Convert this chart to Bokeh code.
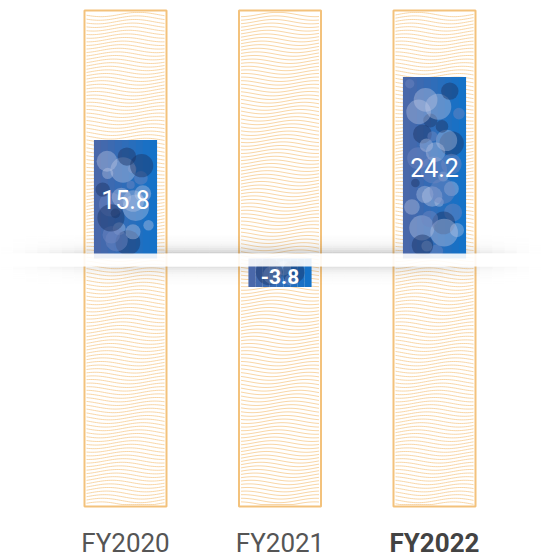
import numpy as np
from bokeh.plotting import figure
from bokeh.models import Range1d
from bokeh.core.properties import value
from bokeh.embed import file_html
from bokeh.resources import INLINE

# ---- data ----
categories = ["FY2020", "FY2021", "FY2022"]
values = [15.8, -3.8, 24.2]
value_labels = ["15.8", "-3.8", "24.2"]
highlight = [False, False, True]

# ---- layout / style constants ----
W, H = 541, 558
PX_X = 154.5      # px per category step
PX_Y = 7.5        # px per unit
X0 = 125          # px of first category
Y0 = 258          # px of zero
COL_W = 82 / PX_X
BAR_W = 63 / PX_X
COL_TOP = 33.07
COL_BOTTOM = -33.07
BAND_TOP = 0.667
BAND_BOTTOM = -1.067

x_range = Range1d(-X0 / PX_X, (W - X0) / PX_X)
y_range = Range1d(-(H - Y0) / PX_Y, Y0 / PX_Y)

p = figure(width=W, height=H, x_range=x_range, y_range=y_range,
           output_backend="svg", toolbar_location=None,
           x_axis_type=None, y_axis_type=None, min_border=0,
           outline_line_color=None, background_fill_color="white",
           border_fill_color="white")
p.grid.visible = False

xs = np.arange(len(categories), dtype=float)

# ---- background columns ----
p.quad(left=xs - COL_W / 2, right=xs + COL_W / 2, top=COL_TOP, bottom=COL_BOTTOM,
       fill_color="white", line_color=None)

# wavy texture inside columns
wx, wy = [], []
col_w_px = COL_W * PX_X
n_lines = int((COL_TOP - COL_BOTTOM) * PX_Y / 3.6)
xpx = np.linspace(2, col_w_px - 2, 40)
for c in xs:
    for k in range(n_lines):
        y0px = 4 + k * 3.6
        ph = y0px * 0.045 + c * 1.3
        ypx = y0px + 2.2 * np.sin(2 * np.pi * xpx / 75.0 + ph)
        ydata = COL_TOP - np.clip(ypx, 2, (COL_TOP - COL_BOTTOM) * PX_Y - 2) / PX_Y
        wx.append(list(c - COL_W / 2 + xpx / PX_X))
        wy.append(list(ydata))
p.multi_line(xs=wx, ys=wy, line_color="#f5c684", line_width=0.8, line_alpha=0.9)

p.quad(left=xs - COL_W / 2, right=xs + COL_W / 2, top=COL_TOP, bottom=COL_BOTTOM,
       fill_color=None, line_color="#f3c27c", line_width=2)

# ---- shadow around zero band ----
nx = 44
edges = np.linspace(0, W, nx + 1)
sl, sr, st, sb, sa = [], [], [], [], []
for i in range(nx):
    xm = (edges[i] + edges[i + 1]) / 2
    f = min(1.0, xm / 130.0, (W - xm) / 110.0) ** 1.3
    for k in range(10):
        g = 0.32 * np.exp(-k / 3.0)
        sl.append(x_range.start + edges[i] / PX_X)
        sr.append(x_range.start + edges[i + 1] / PX_X)
        sb.append(BAND_TOP + k * 1.8 / PX_Y)
        st.append(BAND_TOP + (k + 1) * 1.8 / PX_Y)
        sa.append(g * f)
    for k in range(10):
        g = 0.2 * np.exp(-k / 3.0)
        sl.append(x_range.start + edges[i] / PX_X)
        sr.append(x_range.start + edges[i + 1] / PX_X)
        st.append(BAND_BOTTOM - k * 1.8 / PX_Y)
        sb.append(BAND_BOTTOM - (k + 1) * 1.8 / PX_Y)
        sa.append(g * f)
p.quad(left=sl, right=sr, top=st, bottom=sb, fill_color="#707070",
       fill_alpha=sa, line_color=None)

# ---- bars (gradient strips) ----
n_strips = 9
c_left = np.array([0x4a, 0x68, 0xaa])
c_right = np.array([0x14, 0x72, 0xc8])
vals = np.array(values)
for s in range(n_strips):
    t = s / (n_strips - 1)
    col = c_left + (c_right - c_left) * t
    hexc = "#%02x%02x%02x" % tuple(int(v) for v in col)
    p.vbar(x=xs - BAR_W / 2 + (s + 0.5) * BAR_W / n_strips, width=BAR_W / n_strips * 1.02,
           top=np.maximum(vals, 0), bottom=np.minimum(vals, 0),
           fill_color=hexc, line_color=None)


def halton(i, b):
    f, r = 1.0, 0.0
    while i > 0:
        f /= b
        r += f * (i % b)
        i //= b
    return r


bub_palette = [("#b7c3e2", 0.42), ("#1b3364", 0.45), ("#7088c0", 0.45), ("#c9d2ea", 0.35)]
bx, by, bs, bc, ba = [], [], [], [], []
bw_px = BAR_W * PX_X
for j, v in enumerate(values):
    bottom = min(v, 0)
    h_px = abs(v) * PX_Y
    n = int(bw_px * h_px / 330)
    off = 37 * j + 3
    for i in range(1, n + 1):
        u = halton(i + off, 2)
        w = halton(i + off, 3)
        s = halton(i + off, 5)
        cidx = int(halton(i + off, 7) * len(bub_palette))
        d = 8 + 20 * s
        r = d / 2
        if h_px < 2 * r:
            d = h_px * 0.8
            r = d / 2
        bx.append(xs[j] - BAR_W / 2 + (r + u * (bw_px - 2 * r)) / PX_X)
        by.append(bottom + (r + w * (h_px - 2 * r)) / PX_Y)
        bs.append(d)
        colr, al = bub_palette[cidx]
        bc.append(colr)
        ba.append(al)
p.scatter(x=bx, y=by, size=bs, marker="circle", fill_color=bc, fill_alpha=ba,
          line_color=None)

# ---- zero band ----
p.quad(left=x_range.start, right=x_range.end, top=BAND_TOP, bottom=BAND_BOTTOM,
       fill_color="white", fill_alpha=0.9, line_color=None)

# ---- value labels ----
for j, v in enumerate(values):
    neg = v < 0
    p.text(x=[xs[j]], y=[v / 2], text=[value_labels[j]],
           text_font=value("Roboto"),
           text_font_size="21px" if neg else "25px",
           text_font_style="bold" if neg else "normal",
           text_color="white", text_align="center", text_baseline="middle",
           y_offset=4 if neg else 0)

# ---- category labels ----
for j, cat in enumerate(categories):
    p.text(x=[xs[j]], y=[COL_BOTTOM], text=[cat],
           text_font=value("Roboto"), text_font_size="26px",
           text_font_style="bold" if highlight[j] else "normal",
           text_color="#434343" if highlight[j] else "#555555",
           text_align="center", text_baseline="middle", y_offset=36)

open("out.html", "w").write(file_html(p, INLINE))
